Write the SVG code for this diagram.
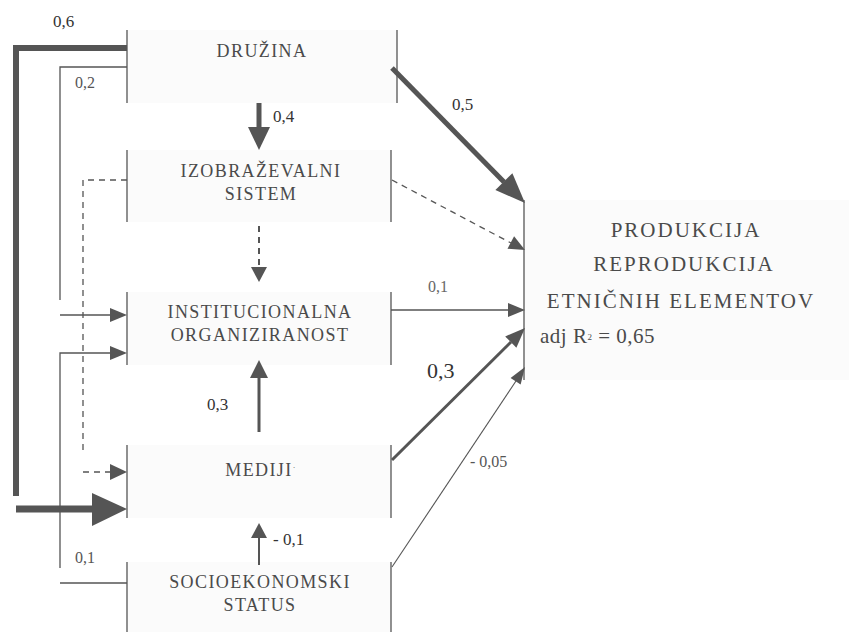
<svg xmlns="http://www.w3.org/2000/svg" width="849" height="632" viewBox="0 0 849 632" font-family="Liberation Serif, DejaVu Serif, serif">
<style>
  .bg{fill:#fbfbfb;stroke:none}
  .bar{stroke:#555;stroke-width:1.3;fill:none}
  .lbl{fill:#4a4a4a;text-anchor:middle;letter-spacing:1.4px;font-size:18px}
  .big{font-size:21px;letter-spacing:2px}
  .num{fill:#333;font-size:17px}
  .ln{stroke:#555;fill:none}
  .dash{stroke-dasharray:6 5}
  .ah{fill:#555;stroke:none}
</style>
<rect width="849" height="632" fill="#ffffff"/>

<g id="node-druzina">
  <rect class="bg" x="127" y="30" width="270" height="73"/>
  <line class="bar" x1="127" y1="30" x2="127" y2="103"/>
  <line class="bar" x1="397" y1="30" x2="397" y2="103"/>
  <text class="lbl" x="262" y="57" font-family="Liberation Serif">DRUŽINA</text>
</g>
<g id="node-izobrazevalni">
  <rect class="bg" x="127" y="150" width="264" height="72"/>
  <line class="bar" x1="127" y1="150" x2="127" y2="222"/>
  <line class="bar" x1="391" y1="150" x2="391" y2="222"/>
  <text class="lbl" x="261" y="177" font-family="Liberation Serif">IZOBRAŽEVALNI</text>
  <text class="lbl" x="261" y="200" font-family="Liberation Serif">SISTEM</text>
</g>
<g id="node-institucionalna">
  <rect class="bg" x="127" y="292" width="264" height="73"/>
  <line class="bar" x1="127" y1="292" x2="127" y2="365"/>
  <line class="bar" x1="391" y1="292" x2="391" y2="365"/>
  <text class="lbl" x="260" y="318" font-family="Liberation Serif">INSTITUCIONALNA</text>
  <text class="lbl" x="260" y="341" font-family="Liberation Serif">ORGANIZIRANOST</text>
</g>
<g id="node-mediji">
  <rect class="bg" x="127" y="445" width="264" height="73"/>
  <line class="bar" x1="127" y1="445" x2="127" y2="518"/>
  <line class="bar" x1="391" y1="445" x2="391" y2="518"/>
  <text class="lbl" x="261" y="476" font-family="Liberation Serif">MEDIJI<tspan style="font-size:8px" dy="-6">·</tspan></text>
</g>
<g id="node-socioekonomski">
  <rect class="bg" x="127" y="562" width="264" height="70"/>
  <line class="bar" x1="127" y1="562" x2="127" y2="632"/>
  <line class="bar" x1="391" y1="562" x2="391" y2="632"/>
  <text class="lbl" x="260" y="588" font-family="Liberation Serif">SOCIOEKONOMSKI</text>
  <text class="lbl" x="260" y="611" font-family="Liberation Serif">STATUS</text>
</g>
<g id="node-produkcija">
  <rect class="bg" x="524" y="200" width="325" height="180"/>
  <line class="bar" x1="524" y1="200" x2="524" y2="380"/>
  <text class="lbl big" x="686" y="237" font-family="Liberation Serif">PRODUKCIJA</text>
  <text class="lbl big" x="684" y="271" font-family="Liberation Serif">REPRODUKCIJA</text>
  <text class="lbl big" x="681" y="308" font-family="Liberation Serif">ETNIČNIH ELEMENTOV</text>
  <text class="lbl big" x="540" y="343" font-family="Liberation Serif" style="text-anchor:start;letter-spacing:0.5px">adj R<tspan style="font-size:9px" dy="-3">2</tspan><tspan dy="3"> = 0,65</tspan></text>
</g>

<g id="connectors">
  <polyline class="ln" stroke-width="6" points="127,48 16,48 16,496"/>
  <line class="ln" stroke-width="7" x1="16" y1="509" x2="94" y2="509"/>
  <polygon class="ah" points="127,509 92,493 92,526"/>
  <polyline class="ln" stroke-width="1.3" points="127,67 60,67 60,300"/>
  <line class="ln" stroke-width="1.3" x1="60" y1="315" x2="112" y2="315"/>
  <polygon class="ah" points="127,315 110,308 110,322"/>
  <polyline class="ln dash" stroke-width="1.3" points="127,180 83,180 83,453"/>
  <line class="ln dash" stroke-width="1.3" x1="83" y1="472" x2="111" y2="472"/>
  <polygon class="ah" points="127,472 110,464 110,480"/>
  <line class="ln" stroke-width="1.3" x1="127" y1="583" x2="60" y2="583"/>
  <polyline class="ln" stroke-width="1.3" points="60,568 60,353 112,353"/>
  <polygon class="ah" points="127,353 110,346 110,360"/>
  <line class="ln" stroke-width="5" x1="259" y1="103" x2="259" y2="130"/>
  <polygon class="ah" points="259,150 248,127 270,127"/>
  <line class="ln dash" stroke-width="2" x1="259" y1="226" x2="259" y2="268"/>
  <polygon class="ah" points="259,282 251,267 267,267"/>
  <line class="ln" stroke-width="3" x1="259" y1="432" x2="259" y2="376"/>
  <polygon class="ah" points="259,360 250,378 268,378"/>
  <line class="ln" stroke-width="2" x1="259" y1="565" x2="259" y2="536"/>
  <polygon class="ah" points="259,523 251,538 267,538"/>
  <line class="ln" stroke-width="5" x1="392" y1="68" x2="504" y2="182"/>
  <polygon class="ah" points="525,203 495.4,190 512.4,173.2"/>
  <line class="ln dash" stroke-width="1.3" x1="392" y1="180" x2="511" y2="243"/>
  <polygon class="ah" points="525,250 507.5,248.7 514.1,236.3"/>
  <line class="ln" stroke-width="1.3" x1="391" y1="310" x2="509" y2="310"/>
  <polygon class="ah" points="525,310 508,303 508,317"/>
  <line class="ln" stroke-width="3" x1="392" y1="460" x2="511" y2="342"/>
  <polygon class="ah" points="525,328 516.4,347.8 505.2,336.4"/>
  <line class="ln" stroke-width="1.1" x1="392" y1="567" x2="516" y2="381"/>
  <polygon class="ah" points="525,367 520.6,384.5 510.6,377.9"/>

  <text class="num" x="53" y="27" font-family="Liberation Serif">0,6</text>
  <text class="num" x="75" y="88" font-family="Liberation Serif" style="fill:#555;font-size:16px">0,2</text>
  <text class="num" x="273" y="122" font-family="Liberation Serif">0,4</text>
  <text class="num" x="452" y="110" font-family="Liberation Serif">0,5</text>
  <text class="num" x="428" y="292" font-family="Liberation Serif" style="fill:#666;font-size:16px">0,1</text>
  <text class="num" x="427" y="378" font-family="Liberation Serif" style="font-size:22px">0,3</text>
  <text class="num" x="207" y="410" font-family="Liberation Serif">0,3</text>
  <text class="num" x="470" y="467" font-family="Liberation Serif" style="fill:#555;font-size:16px">- 0,05</text>
  <text class="num" x="273" y="545" font-family="Liberation Serif">- 0,1</text>
  <text class="num" x="75" y="563" font-family="Liberation Serif" style="fill:#555;font-size:16px">0,1</text>
</g>
</svg>
